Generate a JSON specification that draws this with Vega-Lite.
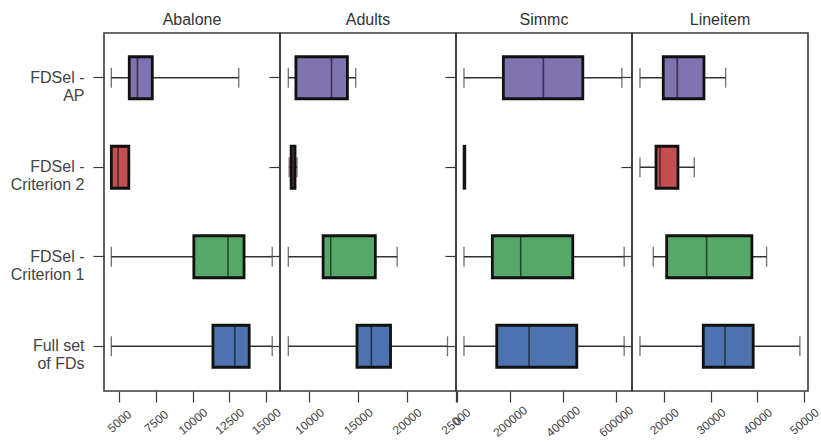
{
  "$schema": "https://vega.github.io/schema/vega-lite/v6.json",
  "padding": {"left": 9, "top": 11, "right": 0, "bottom": 0},
  "bounds": "flush",
  "spacing": 0,
  "datasets": {
    "stats": [
      {"dataset": "Abalone", "method": "FDSel - AP", "wlo": 4470, "q1": 5690, "med": 6250, "q3": 7260, "whi": 13150},
      {"dataset": "Abalone", "method": "FDSel - Criterion 2", "wlo": 4470, "q1": 4470, "med": 4930, "q3": 5660, "whi": 5700},
      {"dataset": "Abalone", "method": "FDSel - Criterion 1", "wlo": 4470, "q1": 10090, "med": 12420, "q3": 13510, "whi": 15430},
      {"dataset": "Abalone", "method": "Full set of FDs", "wlo": 4470, "q1": 11390, "med": 12880, "q3": 13860, "whi": 15430},
      {"dataset": "Adults", "method": "FDSel - AP", "wlo": 7860, "q1": 8640, "med": 12290, "q3": 13920, "whi": 14770},
      {"dataset": "Adults", "method": "FDSel - Criterion 2", "wlo": 7950, "q1": 8150, "med": 8350, "q3": 8550, "whi": 8750},
      {"dataset": "Adults", "method": "FDSel - Criterion 1", "wlo": 7860, "q1": 11430, "med": 12210, "q3": 16780, "whi": 19020},
      {"dataset": "Adults", "method": "Full set of FDs", "wlo": 7860, "q1": 14900, "med": 16370, "q3": 18340, "whi": 24180},
      {"dataset": "Simmc", "method": "FDSel - AP", "wlo": 27500, "q1": 175900, "med": 326800, "q3": 475500, "whi": 622700},
      {"dataset": "Simmc", "method": "FDSel - Criterion 2", "wlo": 27500, "q1": 28000, "med": 29000, "q3": 30500, "whi": 31000},
      {"dataset": "Simmc", "method": "FDSel - Criterion 1", "wlo": 27500, "q1": 134400, "med": 241500, "q3": 437800, "whi": 631400},
      {"dataset": "Simmc", "method": "Full set of FDs", "wlo": 27500, "q1": 151000, "med": 272900, "q3": 452900, "whi": 631400},
      {"dataset": "Lineitem", "method": "FDSel - AP", "wlo": 14860, "q1": 19850, "med": 22850, "q3": 28570, "whi": 33210},
      {"dataset": "Lineitem", "method": "FDSel - Criterion 2", "wlo": 14860, "q1": 18290, "med": 19140, "q3": 23000, "whi": 26490},
      {"dataset": "Lineitem", "method": "FDSel - Criterion 1", "wlo": 17710, "q1": 20580, "med": 29140, "q3": 38840, "whi": 41990},
      {"dataset": "Lineitem", "method": "Full set of FDs", "wlo": 14860, "q1": 28420, "med": 33060, "q3": 39120, "whi": 49120}
    ]
  },
  "hconcat": [
    {
      "width": 176, "height": 358,
      "data": {"name": "stats"},
      "title": "Abalone",
      "transform": [{"filter": "datum.dataset === 'Abalone'"}],
      "encoding": {
        "y": {"field": "method", "type": "nominal",
          "sort": ["FDSel - AP", "FDSel - Criterion 2", "FDSel - Criterion 1", "Full set of FDs"],
          "scale": {"paddingInner": 0, "paddingOuter": 0},
          "axis": {"title": null, "labelFontSize": 16, "labelLineHeight": 18, "labelPadding": 9, "labelColor": "#444444",
            "labelExpr": "datum.label == 'Full set of FDs' ? ['Full set', 'of FDs'] : [slice(datum.label, 0, 7), slice(datum.label, 8)]"}}
      },
      "layer": [
        {"mark": {"type": "rule", "color": "#333333", "strokeWidth": 1.3},
         "encoding": {"x": {"field": "wlo", "type": "quantitative", "scale": {"domain": [3970, 15960], "nice": false, "zero": false},
            "axis": {"title": null, "values": [5000, 7500, 10000, 12500, 15000], "format": "d"}}, "x2": {"field": "whi"}}},
        {"mark": {"type": "tick", "color": "#333333", "size": 20, "thickness": 1.3},
         "encoding": {"x": {"field": "wlo", "type": "quantitative", "scale": {"domain": [3970, 15960], "nice": false, "zero": false}}}},
        {"mark": {"type": "tick", "color": "#333333", "size": 20, "thickness": 1.3},
         "encoding": {"x": {"field": "whi", "type": "quantitative", "scale": {"domain": [3970, 15960], "nice": false, "zero": false}}}},
        {"mark": {"type": "bar", "size": 42, "stroke": "#111111", "strokeWidth": 2.8, "opacity": 1},
         "encoding": {"x": {"field": "q1", "type": "quantitative", "scale": {"domain": [3970, 15960], "nice": false, "zero": false}}, "x2": {"field": "q3"},
           "color": {"field": "method", "type": "nominal", "legend": null,
             "scale": {"domain": ["FDSel - AP", "FDSel - Criterion 2", "FDSel - Criterion 1", "Full set of FDs"], "range": ["#8172B2", "#C44E52", "#55A868", "#4C72B0"]}}}},
        {"mark": {"type": "tick", "color": "#1a1a1a", "size": 40, "thickness": 1.6},
         "encoding": {"x": {"field": "med", "type": "quantitative", "scale": {"domain": [3970, 15960], "nice": false, "zero": false}}}}
      ]
    },
    {
      "width": 176, "height": 358,
      "data": {"name": "stats"},
      "title": "Adults",
      "transform": [{"filter": "datum.dataset === 'Adults'"}],
      "encoding": {
        "y": {"field": "method", "type": "nominal",
          "sort": ["FDSel - AP", "FDSel - Criterion 2", "FDSel - Criterion 1", "Full set of FDs"],
          "scale": {"paddingInner": 0, "paddingOuter": 0},
          "axis": {"title": null, "labels": false}}
      },
      "layer": [
        {"mark": {"type": "rule", "color": "#333333", "strokeWidth": 1.3},
         "encoding": {"x": {"field": "wlo", "type": "quantitative", "scale": {"domain": [7010, 25050], "nice": false, "zero": false},
            "axis": {"title": null, "values": [10000, 15000, 20000, 25000], "format": "d"}}, "x2": {"field": "whi"}}},
        {"mark": {"type": "tick", "color": "#333333", "size": 20, "thickness": 1.3},
         "encoding": {"x": {"field": "wlo", "type": "quantitative", "scale": {"domain": [7010, 25050], "nice": false, "zero": false}}}},
        {"mark": {"type": "tick", "color": "#333333", "size": 20, "thickness": 1.3},
         "encoding": {"x": {"field": "whi", "type": "quantitative", "scale": {"domain": [7010, 25050], "nice": false, "zero": false}}}},
        {"mark": {"type": "bar", "size": 42, "stroke": "#111111", "strokeWidth": 2.8, "opacity": 1},
         "encoding": {"x": {"field": "q1", "type": "quantitative", "scale": {"domain": [7010, 25050], "nice": false, "zero": false}}, "x2": {"field": "q3"},
           "color": {"field": "method", "type": "nominal", "legend": null,
             "scale": {"domain": ["FDSel - AP", "FDSel - Criterion 2", "FDSel - Criterion 1", "Full set of FDs"], "range": ["#8172B2", "#C44E52", "#55A868", "#4C72B0"]}}}},
        {"mark": {"type": "tick", "color": "#1a1a1a", "size": 40, "thickness": 1.6},
         "encoding": {"x": {"field": "med", "type": "quantitative", "scale": {"domain": [7010, 25050], "nice": false, "zero": false}}}}
      ]
    },
    {
      "width": 176, "height": 358,
      "data": {"name": "stats"},
      "title": "Simmc",
      "transform": [{"filter": "datum.dataset === 'Simmc'"}],
      "encoding": {
        "y": {"field": "method", "type": "nominal",
          "sort": ["FDSel - AP", "FDSel - Criterion 2", "FDSel - Criterion 1", "Full set of FDs"],
          "scale": {"paddingInner": 0, "paddingOuter": 0},
          "axis": {"title": null, "labels": false}}
      },
      "layer": [
        {"mark": {"type": "rule", "color": "#333333", "strokeWidth": 1.3},
         "encoding": {"x": {"field": "wlo", "type": "quantitative", "scale": {"domain": [-2600, 661000], "nice": false, "zero": false},
            "axis": {"title": null, "values": [0, 200000, 400000, 600000], "format": "d"}}, "x2": {"field": "whi"}}},
        {"mark": {"type": "tick", "color": "#333333", "size": 20, "thickness": 1.3},
         "encoding": {"x": {"field": "wlo", "type": "quantitative", "scale": {"domain": [-2600, 661000], "nice": false, "zero": false}}}},
        {"mark": {"type": "tick", "color": "#333333", "size": 20, "thickness": 1.3},
         "encoding": {"x": {"field": "whi", "type": "quantitative", "scale": {"domain": [-2600, 661000], "nice": false, "zero": false}}}},
        {"mark": {"type": "bar", "size": 42, "stroke": "#111111", "strokeWidth": 2.8, "opacity": 1},
         "encoding": {"x": {"field": "q1", "type": "quantitative", "scale": {"domain": [-2600, 661000], "nice": false, "zero": false}}, "x2": {"field": "q3"},
           "color": {"field": "method", "type": "nominal", "legend": null,
             "scale": {"domain": ["FDSel - AP", "FDSel - Criterion 2", "FDSel - Criterion 1", "Full set of FDs"], "range": ["#8172B2", "#C44E52", "#55A868", "#4C72B0"]}}}},
        {"mark": {"type": "tick", "color": "#1a1a1a", "size": 40, "thickness": 1.6},
         "encoding": {"x": {"field": "med", "type": "quantitative", "scale": {"domain": [-2600, 661000], "nice": false, "zero": false}}}}
      ]
    },
    {
      "width": 176, "height": 358,
      "data": {"name": "stats"},
      "title": "Lineitem",
      "transform": [{"filter": "datum.dataset === 'Lineitem'"}],
      "encoding": {
        "y": {"field": "method", "type": "nominal",
          "sort": ["FDSel - AP", "FDSel - Criterion 2", "FDSel - Criterion 1", "Full set of FDs"],
          "scale": {"paddingInner": 0, "paddingOuter": 0},
          "axis": {"title": null, "labels": false}}
      },
      "layer": [
        {"mark": {"type": "rule", "color": "#333333", "strokeWidth": 1.3},
         "encoding": {"x": {"field": "wlo", "type": "quantitative", "scale": {"domain": [13150, 50860], "nice": false, "zero": false},
            "axis": {"title": null, "values": [20000, 30000, 40000, 50000], "format": "d"}}, "x2": {"field": "whi"}}},
        {"mark": {"type": "tick", "color": "#333333", "size": 20, "thickness": 1.3},
         "encoding": {"x": {"field": "wlo", "type": "quantitative", "scale": {"domain": [13150, 50860], "nice": false, "zero": false}}}},
        {"mark": {"type": "tick", "color": "#333333", "size": 20, "thickness": 1.3},
         "encoding": {"x": {"field": "whi", "type": "quantitative", "scale": {"domain": [13150, 50860], "nice": false, "zero": false}}}},
        {"mark": {"type": "bar", "size": 42, "stroke": "#111111", "strokeWidth": 2.8, "opacity": 1},
         "encoding": {"x": {"field": "q1", "type": "quantitative", "scale": {"domain": [13150, 50860], "nice": false, "zero": false}}, "x2": {"field": "q3"},
           "color": {"field": "method", "type": "nominal", "legend": null,
             "scale": {"domain": ["FDSel - AP", "FDSel - Criterion 2", "FDSel - Criterion 1", "Full set of FDs"], "range": ["#8172B2", "#C44E52", "#55A868", "#4C72B0"]}}}},
        {"mark": {"type": "tick", "color": "#1a1a1a", "size": 40, "thickness": 1.6},
         "encoding": {"x": {"field": "med", "type": "quantitative", "scale": {"domain": [13150, 50860], "nice": false, "zero": false}}}}
      ]
    }
  ],
  "config": {
    "font": "Liberation Sans",
    "view": {"stroke": "#3a3a3a", "strokeWidth": 1.6},
    "axis": {"domain": false, "grid": false, "tickColor": "#3a3a3a", "tickWidth": 1.2, "tickSize": 11, "labelColor": "#444444"},
    "axisX": {"labelFontSize": 12, "labelAngle": -40, "labelAlign": "center", "labelBaseline": "middle", "labelPadding": 19, "labelOverlap": false, "labelFlush": false},
    "title": {"fontSize": 16, "fontWeight": "normal", "color": "#333333", "offset": 5}
  }
}
